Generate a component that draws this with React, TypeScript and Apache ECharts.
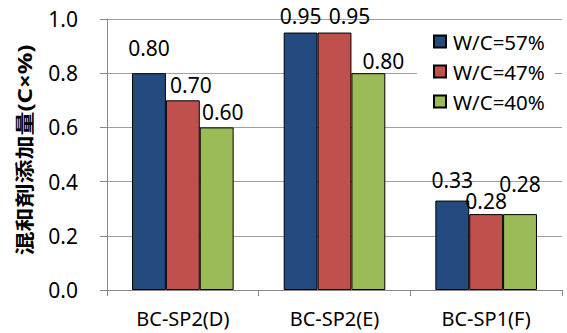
import React, { useEffect, useRef } from "react";
import * as echarts from "echarts";

// Admixture dosage per mix, by water/cement ratio
const categories = ["BC-SP2(D)", "BC-SP2(E)", "BC-SP1(F)"];
const seriesNames = ["W/C=57%", "W/C=47%", "W/C=40%"];
const wc57 = [0.8, 0.95, 0.33];
const wc47 = [0.7, 0.95, 0.28];
const wc40 = [0.6, 0.8, 0.28];
const yTicks = [0, 0.2, 0.4, 0.6, 0.8, 1.0];
const yAxisTitle = "混和剤添加量(C×%)";

const colors = ["#234B7F", "#C0504D", "#9BBB59"];

// nudges that keep the value labels from colliding with each other
const labelNudge: [number, number][][] = [
  [[0, -10], [0, -1.5], [0, -5]],
  [[8, 0], [15, -1.5], [0, 2]],
  [[6, 0], [15, 3.5], [0, -14.5]],
];

const FONT = "'Noto Sans', sans-serif";

export default function App() {
  const ref = useRef<HTMLDivElement>(null);

  useEffect(() => {
    if (!ref.current) return;
    const chart = echarts.init(ref.current, null, { renderer: "svg" });
    const values = [wc57, wc47, wc40];

    chart.setOption({
      animation: false,
      backgroundColor: "#ffffff",
      grid: { left: 107, right: 5, top: 19, bottom: 43 },
      legend: {
        orient: "vertical",
        left: 417,
        top: 21,
        padding: [10, 10, 10, 16],
        backgroundColor: "#ffffff",
        itemWidth: 12,
        itemHeight: 12,
        itemGap: 9,
        icon: "rect",
        data: seriesNames,
        textStyle: { fontFamily: FONT, fontSize: 20.5, color: "#000", padding: [0, 0, 0, 2] },
        z: 10,
      },
      xAxis: {
        type: "category",
        data: categories,
        boundaryGap: true,
        axisLine: { show: true, lineStyle: { color: "#888888", width: 1 } },
        axisTick: { show: true, length: 6, lineStyle: { color: "#888888" } },
        axisLabel: { fontFamily: FONT, fontSize: 20, color: "#000", margin: 18 },
        splitLine: { show: false },
      },
      yAxis: {
        type: "value",
        min: yTicks[0],
        max: yTicks[yTicks.length - 1],
        interval: 0.2,
        axisLine: { show: true, lineStyle: { color: "#888888", width: 1 } },
        axisTick: { show: true, length: 7, lineStyle: { color: "#888888" } },
        axisLabel: {
          fontFamily: FONT,
          fontSize: 21,
          color: "#000",
          margin: 29,
          formatter: (v: number) => v.toFixed(1),
        },
        splitLine: { show: true, lineStyle: { color: "#A0A0A0", width: 1 } },
      },
      graphic: [
        {
          type: "text",
          x: 24,
          y: 150,
          rotation: Math.PI / 2,
          scaleY: 0.8,
          style: {
            text: yAxisTitle,
            fontFamily: "'Noto Sans', 'Noto Sans CJK JP', sans-serif",
            fontWeight: "bold",
            fontSize: 24,
            fill: "#000",
            align: "center",
            verticalAlign: "middle",
          },
        },
      ],
      series: seriesNames.map((name, si) => ({
        name,
        type: "bar",
        barGap: "0%",
        barCategoryGap: "33%",
        itemStyle: { color: colors[si], borderColor: "#000", borderWidth: 1 },
        label: {
          show: true,
          position: "top",
          distance: 5,
          fontFamily: FONT,
          fontSize: 21,
          lineHeight: 21,
          color: "#000",
          formatter: (p: any) => Number(p.value).toFixed(2),
        },
        data: values[si].map((v, ci) => ({
          value: v,
          label: { offset: labelNudge[si][ci] },
        })),
      })),
    });

    return () => chart.dispose();
  }, []);

  return (
    <div
      ref={ref}
      style={{ position: "fixed", left: 0, top: 0, width: 567, height: 333 }}
    />
  );
}
